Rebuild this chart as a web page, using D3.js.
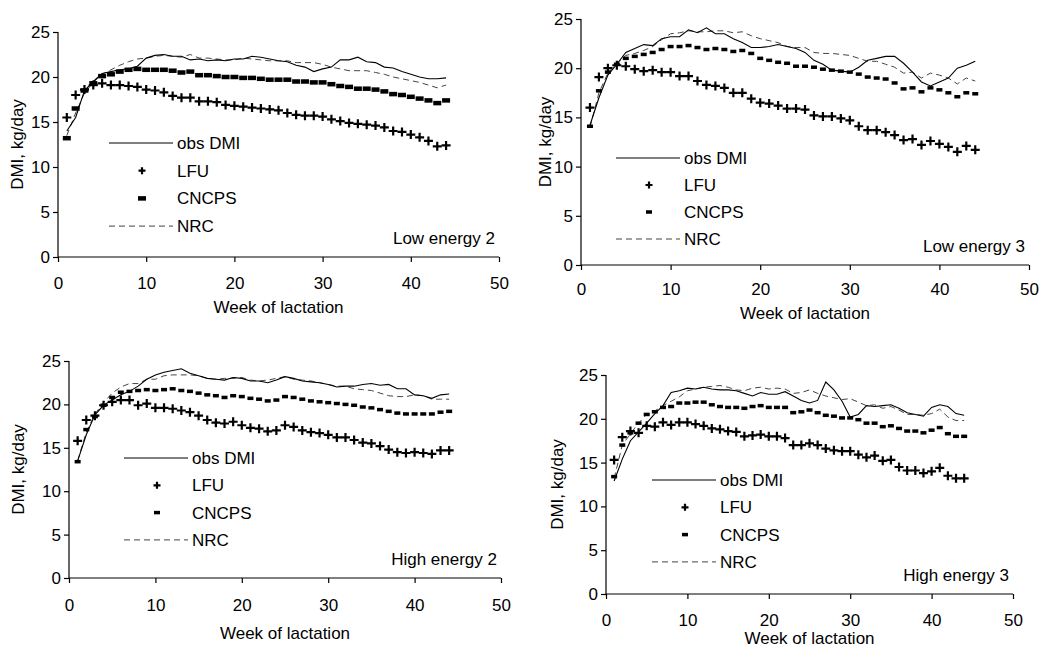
<!DOCTYPE html>
<html>
<head>
<meta charset="utf-8">
<script src="https://cdn.jsdelivr.net/npm/d3@7"></script>
<style>
  body { margin: 0; background: #fff; }
  text { font-family: "Liberation Sans", Arial, sans-serif; fill: #000; }
</style>
</head>
<body>
<svg id="chart" width="1053" height="648"></svg>
<script>
// weeks of lactation
const weeks = d3.range(1, 45);

// Low energy 2
const le2Obs = [14.0,15.5,18.5,19.5,20.4,20.6,20.8,20.9,21.2,22.1,22.4,22.5,22.3,22.3,21.9,22.0,21.8,21.9,21.8,22.0,22.0,22.3,22.2,22.0,21.8,21.7,21.3,21.1,20.6,20.9,21.1,21.9,21.9,22.2,21.7,21.6,21.1,21.0,20.6,20.3,20.0,19.8,19.8,19.9];
const le2Lfu = [15.5,18.0,18.6,19.1,19.3,19.1,19.1,19.0,18.9,18.6,18.5,18.3,17.9,17.7,17.7,17.3,17.3,17.2,16.9,16.8,16.7,16.6,16.5,16.4,16.3,16.0,15.8,15.7,15.7,15.6,15.3,15.1,14.9,14.8,14.7,14.6,14.4,14.0,13.9,13.6,13.3,12.9,12.3,12.4];
const le2Cncps = [13.2,16.5,18.5,19.3,20.1,20.3,20.6,20.8,20.9,20.8,20.8,20.8,20.7,20.5,20.6,20.2,20.2,20.1,20.0,20.0,19.9,19.9,19.8,19.7,19.7,19.7,19.5,19.5,19.4,19.4,19.2,19.0,18.9,18.7,18.7,18.6,18.4,18.1,18.0,17.8,17.6,17.4,17.1,17.4];
const le2Nrc = [13.5,16.0,18.2,19.4,20.3,20.8,21.3,21.7,22.0,22.1,22.3,22.4,22.3,22.2,22.5,22.1,22.1,22.0,21.9,21.9,22.1,22.0,21.9,21.8,21.8,21.8,21.6,21.6,21.6,21.4,21.1,20.9,20.7,20.7,20.7,20.5,20.3,20.0,19.8,19.6,19.4,19.1,18.8,19.1];

// Low energy 3
const le3Obs = [14.2,17.0,19.3,20.4,21.6,22.0,22.4,22.3,23.0,23.2,23.2,23.9,23.6,24.1,23.5,23.5,23.0,22.6,22.1,22.1,22.2,22.4,22.2,22.0,21.6,20.8,20.4,19.8,19.7,19.6,20.1,20.8,21.0,21.2,21.2,20.5,19.6,18.6,18.2,18.6,19.0,20.0,20.3,20.7];
const le3Lfu = [16.0,19.1,20.0,20.3,20.2,19.9,19.7,19.8,19.6,19.6,19.2,19.2,18.7,18.3,18.2,18.0,17.5,17.5,16.9,16.5,16.4,16.2,15.9,15.9,15.8,15.2,15.1,15.1,14.9,14.7,14.1,13.7,13.7,13.5,13.2,12.7,12.8,12.2,12.6,12.3,12.0,11.5,12.1,11.7];
const le3Cncps = [14.1,17.7,19.6,20.4,21.0,21.2,21.4,21.6,21.9,22.2,22.2,22.3,22.1,21.9,22.0,21.9,21.7,21.8,21.5,21.0,20.8,20.6,20.5,20.2,20.2,20.1,19.9,19.8,19.7,19.6,19.4,19.1,19.0,18.9,18.5,17.9,18.0,17.6,18.0,17.8,17.5,17.1,17.5,17.4];
const le3Nrc = [14.0,17.5,19.5,20.5,21.3,21.5,21.8,22.2,22.9,23.5,23.6,23.8,23.7,23.7,23.8,23.8,23.6,23.7,23.3,23.0,22.8,22.6,22.2,22.1,22.1,21.6,21.5,21.5,21.4,21.3,21.0,20.7,20.7,20.4,20.1,19.5,19.6,19.0,19.5,19.3,19.0,18.4,19.0,18.7];

// High energy 2
const he2Obs = [13.5,16.5,18.8,19.9,20.5,21.1,21.5,22.1,22.9,23.4,23.7,23.9,24.1,23.6,23.3,23.0,22.9,22.8,23.1,23.0,22.7,22.7,22.5,22.8,23.2,23.0,22.7,22.6,22.5,22.3,22.0,22.1,22.1,22.3,22.4,22.2,22.3,21.8,21.8,21.1,21.0,20.7,21.1,21.2];
const he2Lfu = [15.8,18.2,18.7,19.9,20.3,20.5,20.5,19.9,20.1,19.6,19.6,19.5,19.3,19.1,18.7,18.2,17.9,17.8,18.0,17.6,17.3,17.2,16.9,17.0,17.6,17.4,17.0,16.8,16.7,16.5,16.2,16.2,15.9,15.6,15.5,15.2,14.8,14.5,14.4,14.5,14.4,14.3,14.7,14.7];
const he2Cncps = [13.4,17.1,18.6,19.9,20.8,21.4,21.5,21.6,21.7,21.6,21.7,21.8,21.6,21.5,21.3,21.1,21.0,20.8,21.0,20.9,20.7,20.6,20.4,20.5,20.9,20.8,20.6,20.4,20.3,20.2,20.1,20.0,19.9,19.7,19.6,19.4,19.2,19.0,18.9,18.9,18.9,18.9,19.1,19.2];
const he2Nrc = [13.5,16.8,18.9,20.2,21.3,22.0,22.4,22.4,22.9,22.9,23.3,23.4,23.4,23.4,23.3,23.0,22.9,23.0,23.0,23.1,22.8,22.7,22.8,23.0,23.2,22.9,22.8,22.7,22.5,22.3,22.1,22.1,21.8,21.7,21.6,21.3,21.0,20.9,20.9,21.1,21.0,20.6,20.6,20.6];

// High energy 3
const he3Obs = [12.9,15.4,17.5,18.5,19.5,20.6,21.5,23.0,23.2,23.5,23.4,23.6,23.4,23.3,23.3,23.2,22.9,22.6,23.0,22.8,22.8,23.1,22.6,22.1,21.8,22.1,24.2,23.3,22.0,20.2,20.5,21.5,21.4,21.5,21.6,21.2,20.7,20.5,20.3,21.3,21.6,21.4,20.6,20.4];
const he3Lfu = [15.3,17.9,18.6,18.4,19.2,19.1,19.6,19.3,19.6,19.6,19.4,19.2,18.9,18.8,18.6,18.5,18.0,18.1,18.2,18.0,18.0,17.8,17.0,17.0,17.2,17.0,16.6,16.4,16.3,16.3,15.9,15.6,15.8,15.2,15.3,14.5,14.1,14.1,13.8,14.0,14.4,13.5,13.2,13.2];
const he3Cncps = [13.4,17.0,18.4,19.5,20.5,20.8,21.3,21.4,21.8,21.8,21.9,21.9,21.6,21.4,21.3,21.3,21.2,21.4,21.5,21.3,21.3,21.3,20.7,20.8,21.0,20.7,20.4,20.3,20.1,20.1,19.9,19.5,19.5,19.1,19.2,18.9,18.6,18.6,18.4,18.7,19.0,18.3,18.0,18.0];
const he3Nrc = [13.2,17.0,18.3,19.5,20.5,20.9,21.5,22.0,22.5,23.2,23.4,23.6,23.7,23.8,23.6,23.3,23.2,23.5,23.6,23.4,23.5,23.4,22.9,23.0,23.3,22.9,22.6,22.4,22.2,22.3,21.9,21.5,21.6,21.2,21.4,21.0,20.5,20.5,20.4,20.6,21.1,20.2,19.8,19.8];

const yTicks = [0, 5, 10, 15, 20, 25];
const xTicks = [0, 10, 20, 30, 40, 50];
const legendNames = ["obs DMI", "LFU", "CNCPS", "NRC"];
const panelTitles = ["Low energy 2", "Low energy 3", "High energy 2", "High energy 3"];

// panel layout (pixel positions of the axes and legend)
const panels = [
    { title: panelTitles[0], obs: le2Obs, lfu: le2Lfu, cncps: le2Cncps, nrc: le2Nrc,
      x0: 58, x1: 499, yTop: 32, yBot: 257, yTitleX: 17, tickY: 289, xTitleY: 313,
      legX: 109, legY: 143, legGap: 27.7, rectW: 8, rectH: 4.5 },
    { title: panelTitles[1], obs: le3Obs, lfu: le3Lfu, cncps: le3Cncps, nrc: le3Nrc,
      x0: 581, x1: 1029, yTop: 19, yBot: 265, yTitleX: 545, tickY: 295, xTitleY: 319,
      legX: 616, legY: 158, legGap: 27, rectW: 6, rectH: 3.5 },
    { title: panelTitles[2], obs: he2Obs, lfu: he2Lfu, cncps: he2Cncps, nrc: he2Nrc,
      x0: 69, x1: 501, yTop: 361, yBot: 578, yTitleX: 18, tickY: 611, xTitleY: 639,
      legX: 124, legY: 458, legGap: 27.3, rectW: 6, rectH: 3.5 },
    { title: panelTitles[3], obs: he3Obs, lfu: he3Lfu, cncps: he3Cncps, nrc: he3Nrc,
      x0: 606, x1: 1013, yTop: 375, yBot: 594, yTitleX: 557, tickY: 626, xTitleY: 644,
      legX: 652, legY: 480, legGap: 27.3, rectW: 6, rectH: 3.5 }
];

const svg = d3.select("#chart");
const fontSize = 17;

function plusPath(s) {
    return `M${-s},0H${s}M0,${-s}V${s}`;
}

panels.forEach(p => {
    const x = d3.scaleLinear().domain([0, 50]).range([p.x0, p.x1]);
    const y = d3.scaleLinear().domain([0, 25]).range([p.yBot, p.yTop]);
    const g = svg.append("g");

    // axes
    const yAxis = g.append("g")
        .attr("transform", `translate(${p.x0},0)`)
        .call(d3.axisLeft(y).tickValues(yTicks).tickSize(5).tickPadding(3));
    const xAxis = g.append("g")
        .attr("transform", `translate(0,${p.yBot})`)
        .call(d3.axisBottom(x).tickValues(xTicks).tickSize(5).tickPadding(0));
    [yAxis, xAxis].forEach(a => {
        a.select(".domain").attr("stroke", "#000").attr("stroke-width", 1.2);
        a.selectAll(".tick line").attr("stroke", "#000").attr("stroke-width", 1.2);
        a.selectAll("text").style("font-size", fontSize + "px").attr("fill", "#000");
    });
    yAxis.select(".domain").attr("d", `M0,${p.yBot}V${p.yTop}`);
    xAxis.select(".domain").attr("d", `M${p.x0},0H${p.x1}`);
    xAxis.selectAll(".tick text").attr("dy", null).attr("y", p.tickY - p.yBot);

    // titles
    g.append("text")
        .attr("x", (p.x0 + p.x1) / 2)
        .attr("y", p.xTitleY)
        .attr("text-anchor", "middle")
        .style("font-size", fontSize + "px")
        .text("Week of lactation");
    g.append("text")
        .attr("transform", `translate(${p.yTitleX + 6},${(p.yTop + p.yBot) / 2}) rotate(-90)`)
        .attr("text-anchor", "middle")
        .style("font-size", fontSize + "px")
        .text("DMI, kg/day");
    g.append("text")
        .attr("x", p.x1 - 4)
        .attr("y", p.yBot - 13)
        .attr("text-anchor", "end")
        .style("font-size", fontSize + "px")
        .text(p.title);

    const line = d3.line().x((d, i) => x(weeks[i])).y(d => y(d));

    // NRC dashed
    g.append("path")
        .datum(p.nrc)
        .attr("d", line)
        .attr("fill", "none")
        .attr("stroke", "#444")
        .attr("stroke-width", 1)
        .attr("stroke-dasharray", "6,4");

    // observed solid
    g.append("path")
        .datum(p.obs)
        .attr("d", line)
        .attr("fill", "none")
        .attr("stroke", "#000")
        .attr("stroke-width", 1.1);

    // CNCPS rectangles
    g.append("g")
        .selectAll("rect")
        .data(p.cncps)
        .join("rect")
        .attr("x", (d, i) => x(weeks[i]) - p.rectW / 2)
        .attr("y", d => y(d) - p.rectH / 2)
        .attr("width", p.rectW)
        .attr("height", p.rectH)
        .attr("fill", "#000");

    // LFU plus markers
    g.append("g")
        .selectAll("path")
        .data(p.lfu)
        .join("path")
        .attr("transform", (d, i) => `translate(${x(weeks[i])},${y(d)})`)
        .attr("d", plusPath(4.5))
        .attr("stroke", "#000")
        .attr("stroke-width", 2.2);

    // legend
    const lg = g.append("g");
    const lineEnd = p.legX + 64;
    const mid = p.legX + 33;
    lg.append("line")
        .attr("x1", p.legX).attr("x2", lineEnd)
        .attr("y1", p.legY).attr("y2", p.legY)
        .attr("stroke", "#000").attr("stroke-width", 1.1);
    lg.append("path")
        .attr("transform", `translate(${mid},${p.legY + p.legGap})`)
        .attr("d", plusPath(3.5))
        .attr("stroke", "#000").attr("stroke-width", 2.2);
    lg.append("rect")
        .attr("x", mid - p.rectW / 2).attr("y", p.legY + 2 * p.legGap - p.rectH / 2)
        .attr("width", p.rectW).attr("height", p.rectH)
        .attr("fill", "#000");
    lg.append("line")
        .attr("x1", p.legX).attr("x2", lineEnd)
        .attr("y1", p.legY + 3 * p.legGap).attr("y2", p.legY + 3 * p.legGap)
        .attr("stroke", "#444").attr("stroke-width", 1)
        .attr("stroke-dasharray", "6,4");
    lg.selectAll("text")
        .data(legendNames)
        .join("text")
        .attr("x", lineEnd + 4)
        .attr("y", (d, i) => p.legY + i * p.legGap + 6)
        .style("font-size", fontSize + "px")
        .text(d => d);
});
</script>
</body>
</html>
